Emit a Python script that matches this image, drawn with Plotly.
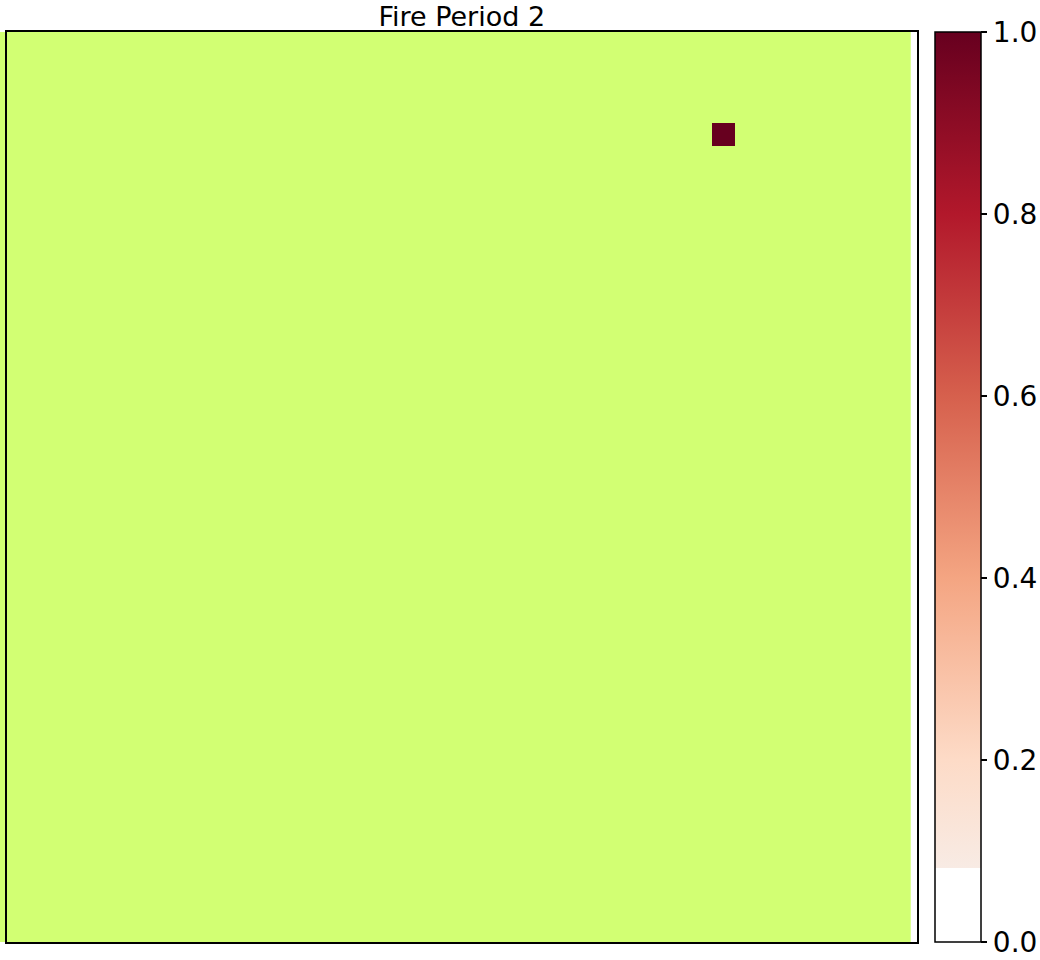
import numpy as np
import plotly.graph_objects as go

n_rows, n_cols = 40, 40
forest = [[1] * n_cols for _ in range(n_rows)]
fire = [[None] * n_cols for _ in range(n_rows)]
fire_cells = [(4, 31, 1.0)]
for r, c, v in fire_cells:
    fire[r][c] = v

title_text = "Fire Period 2"
cbar_ticks = [0.0, 0.2, 0.4, 0.6, 0.8, 1.0]
green = "#d2ff73"
shift = -0.264  # green layer offset in cells

W, H = 1040, 960
x0p, x1p = 6.75, 916.75
y0p, y1p = 32, 942

fig = go.Figure()
fig.add_trace(go.Heatmap(
    z=forest, x=[i + shift for i in range(n_cols)], y=list(range(n_rows)),
    colorscale=[[0, green], [1, green]], showscale=False, hoverinfo="skip",
))
fig.add_trace(go.Heatmap(
    z=fire, x=list(range(n_cols)), y=list(range(n_rows)),
    zmin=0, zmax=1,
    colorscale=[[0, "#ffffff"], [0.081, "#ffffff"], [0.0811, "#f8ebe4"],
                [0.2, "#fddbc7"], [0.4, "#f4a582"], [0.6, "#d6604d"],
                [0.8, "#b2182b"], [1.0, "#67001f"]],
    colorbar=dict(
        x=935 / W, xanchor="left", xpad=0, ypad=0,
        y=1 - (y0p + y1p) / 2 / H, yanchor="middle",
        len=y1p - y0p, lenmode="pixels", thickness=46, thicknessmode="pixels",
        outlinewidth=1.5, outlinecolor="black",
        tickvals=cbar_ticks, ticktext=[f"{t:.1f}" for t in cbar_ticks],
        ticks="outside", ticklen=6, tickwidth=1.5, tickcolor="black",
        tickfont=dict(family="DejaVu Sans", size=28, color="black"),
    ),
))

fig.add_shape(type="rect", xref="paper", yref="paper", layer="below",
              x0=0, x1=x0p / W, y0=1 - y1p / H, y1=1 - y0p / H,
              fillcolor=green, line_width=0)

fig.update_layout(
    width=W, height=H, margin=dict(l=0, r=0, t=0, b=0, autoexpand=False),
    paper_bgcolor="white", plot_bgcolor="white",
    title=dict(text=title_text, x=(x0p + x1p) / 2 / W, xanchor="center",
               y=1 - 26 / H, yanchor="bottom",
               font=dict(family="DejaVu Sans", size=27, color="black")),
    xaxis=dict(domain=[x0p / W, x1p / W], range=[-0.5, 39.5], showticklabels=False,
               ticks="", showgrid=False, zeroline=False, showline=True, mirror=True,
               linecolor="black", linewidth=1.5),
    yaxis=dict(domain=[1 - y1p / H, 1 - y0p / H], range=[39.5, -0.5], showticklabels=False,
               ticks="", showgrid=False, zeroline=False, showline=True, mirror=True,
               linecolor="black", linewidth=1.5),
)
fig.write_html("out.html", config={"displayModeBar": False},
               post_script="document.body.style.margin='0';document.body.style.overflow='hidden';")
